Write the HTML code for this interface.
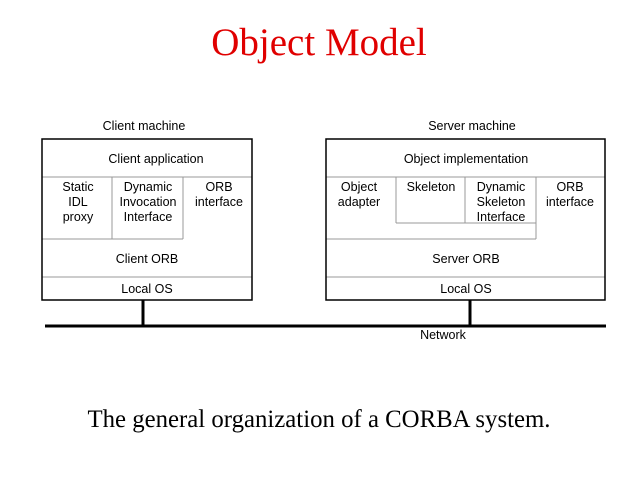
<!DOCTYPE html>
<html><head><style>
body{margin:0;background:#fff}
svg text{font-family:"Liberation Sans",Arial,sans-serif;font-size:12.5px;fill:#000}
</style></head><body>
<svg width="638" height="478" xmlns="http://www.w3.org/2000/svg">
<text x="319" y="55" text-anchor="middle" style="font-family:'Liberation Serif',serif;font-size:39px;fill:#e00000">Object Model</text>
<g fill="none" stroke="#999" stroke-width="1">
<line x1="42" y1="177" x2="252" y2="177"/>
<line x1="42" y1="239" x2="183" y2="239"/>
<line x1="112" y1="177" x2="112" y2="239"/>
<line x1="183" y1="177" x2="183" y2="239"/>
<line x1="42" y1="277" x2="252" y2="277"/>
<line x1="326" y1="177" x2="605" y2="177"/>
<line x1="396" y1="177" x2="396" y2="223"/>
<line x1="465" y1="177" x2="465" y2="223"/>
<line x1="396" y1="223" x2="536" y2="223"/>
<line x1="536" y1="177" x2="536" y2="239"/>
<line x1="326" y1="239" x2="536" y2="239"/>
<line x1="326" y1="277" x2="605" y2="277"/>
</g>
<g fill="none" stroke="#000" stroke-width="1.5">
<rect x="42" y="139" width="210" height="161"/>
<rect x="326" y="139" width="279" height="161"/>
</g>
<g stroke="#000" stroke-width="3">
<line x1="143" y1="300" x2="143" y2="326"/>
<line x1="470" y1="300" x2="470" y2="326"/>
<line x1="45" y1="326" x2="606" y2="326"/>
</g>
<g text-anchor="middle">
<text x="144" y="130">Client machine</text>
<text x="472" y="130">Server machine</text>
<text x="156" y="163">Client application</text>
<text x="466" y="163">Object implementation</text>
<text x="78" y="191">Static</text><text x="78" y="206">IDL</text><text x="78" y="221">proxy</text>
<text x="148" y="191">Dynamic</text><text x="148" y="206">Invocation</text><text x="148" y="221">Interface</text>
<text x="219" y="191">ORB</text><text x="219" y="206">interface</text>
<text x="359" y="191">Object</text><text x="359" y="206">adapter</text>
<text x="431" y="191">Skeleton</text>
<text x="501" y="191">Dynamic</text><text x="501" y="206">Skeleton</text><text x="501" y="221">Interface</text>
<text x="570" y="191">ORB</text><text x="570" y="206">interface</text>
<text x="147" y="263">Client ORB</text>
<text x="466" y="263">Server ORB</text>
<text x="147" y="293">Local OS</text>
<text x="466" y="293">Local OS</text>
<text x="443" y="339">Network</text>
</g>
<text x="319" y="427" text-anchor="middle" style="font-family:'Liberation Serif',serif;font-size:24.8px">The general organization of a CORBA system.</text>
</svg>
</body></html>
